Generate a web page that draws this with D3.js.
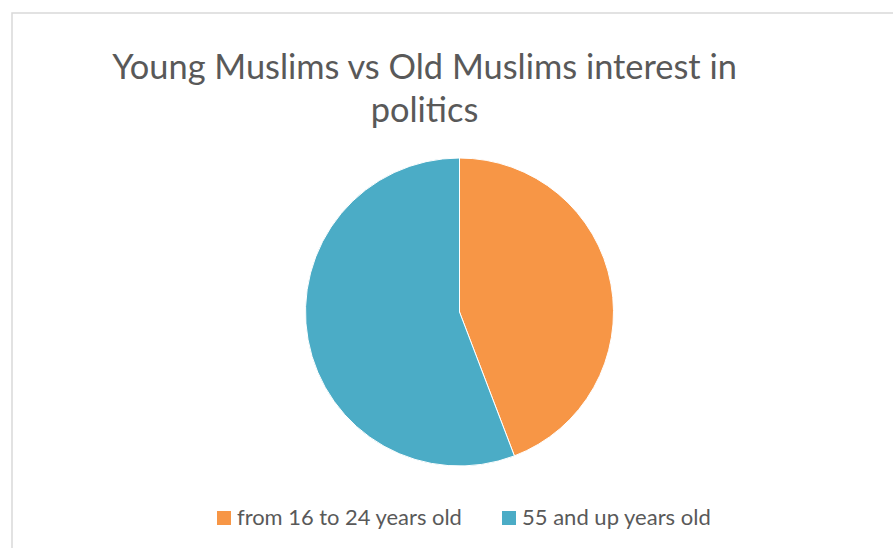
<!DOCTYPE html>
<html><head><meta charset="utf-8">
<script src="https://cdn.jsdelivr.net/npm/d3@7"></script>
<style>body{margin:0;background:#fff;overflow:hidden}svg{display:block}</style>
</head><body>
<script>
const titleLines = ["Young Muslims vs Old Muslims interest in", "politics"];
const categories = ["from 16 to 24 years old", "55 and up years old"];
const values = [44.2, 55.8];
const colors = ["#F79646", "#4BACC6"];

const W = 893, H = 548;
const svg = d3.select("body").append("svg").attr("width", W).attr("height", H);
svg.append("rect").attr("x", 12).attr("y", 13).attr("width", W + 10).attr("height", H + 10)
  .attr("fill", "#fff").attr("stroke", "#D9D9D9").attr("stroke-width", 1.5);

const font = "Lato, 'Open Sans', sans-serif";
function fit(t, target) {
  const w = t.node().getComputedTextLength();
  const fs = parseFloat(t.attr("font-size"));
  t.attr("font-size", fs * target / w);
}
const tc = 424.5;
const t1 = svg.append("text").attr("x", tc).attr("y", 79).attr("text-anchor", "middle")
  .attr("font-family", font).attr("font-size", 32).attr("fill", "#595959").text(titleLines[0]);
fit(t1, 625);
const t2 = svg.append("text").attr("x", tc).attr("y", 122).attr("text-anchor", "middle")
  .attr("font-family", font).attr("font-size", t1.attr("font-size")).attr("fill", "#595959").text(titleLines[1]);

const cx = 459.5, cy = 312, r = 154;
const pie = d3.pie().sort(null).value(d => d)(values);
const arc = d3.arc().innerRadius(0).outerRadius(r);
svg.append("g").attr("transform", `translate(${cx},${cy})`)
  .selectAll("path").data(pie).join("path")
  .attr("d", arc).attr("fill", (d, i) => colors[i])
  .attr("stroke", "#fff").attr("stroke-width", 1);

const legX = [217, 502], textW = [225, 189];
categories.forEach((c, i) => {
  svg.append("rect").attr("x", legX[i]).attr("y", 511).attr("width", 14).attr("height", 14).attr("fill", colors[i]);
  const t = svg.append("text").attr("x", legX[i] + 20).attr("y", 525)
    .attr("font-family", font).attr("font-size", 19).attr("fill", "#595959").text(c);
  fit(t, textW[i]);
});
</script>
</body></html>
